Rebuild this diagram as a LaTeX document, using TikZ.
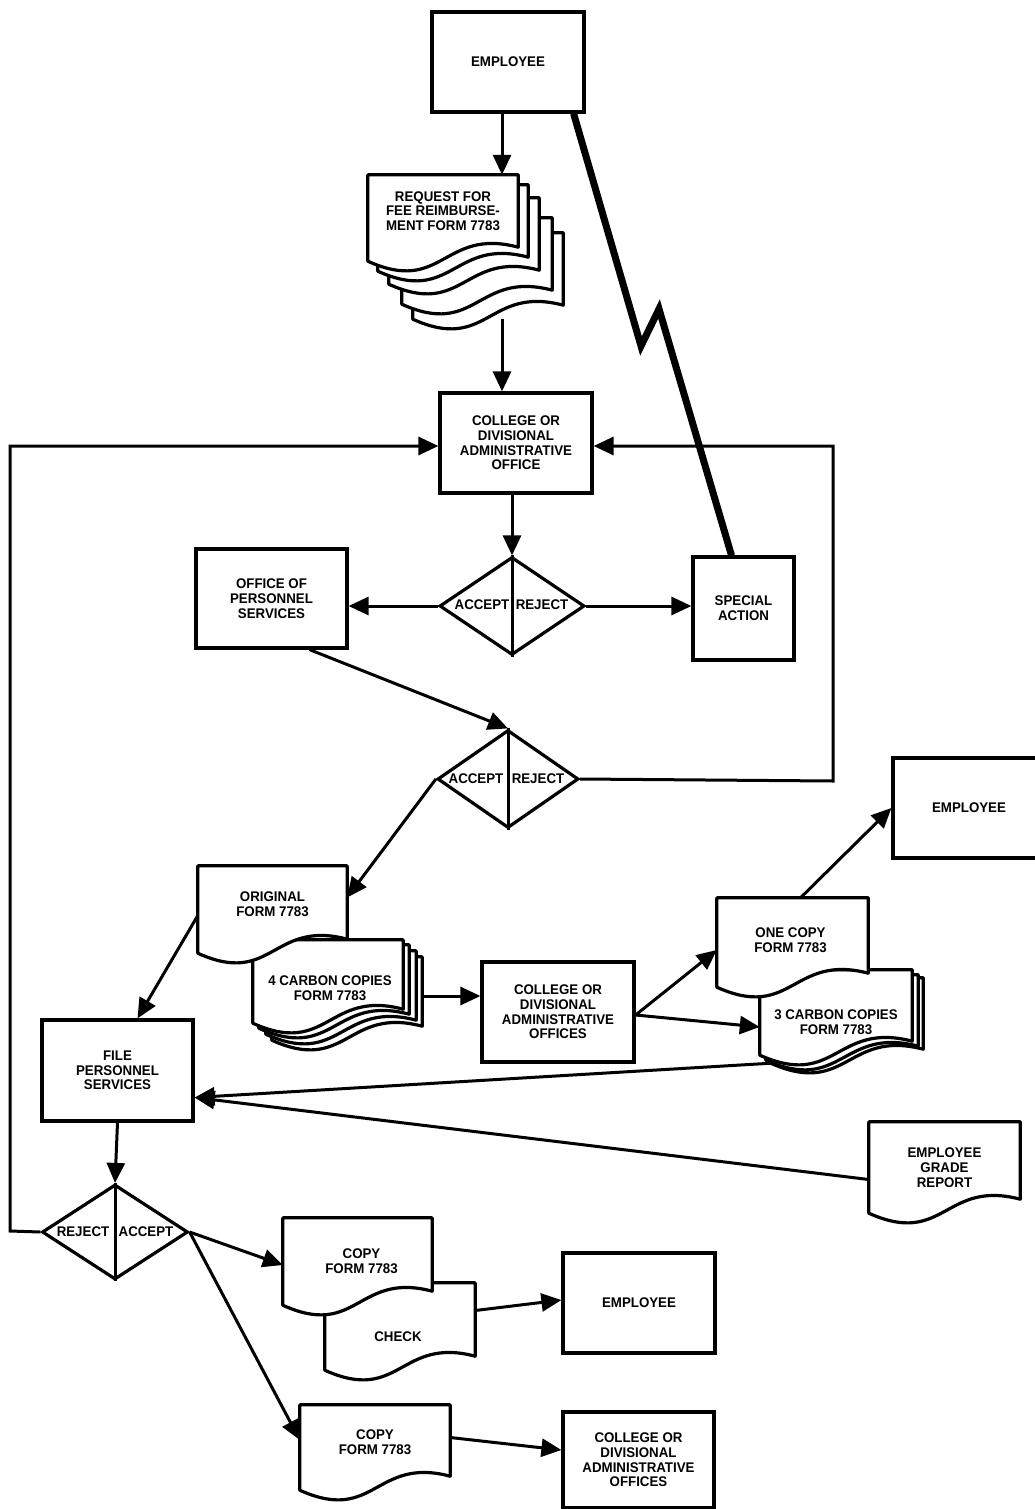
\documentclass[tikz,border=0pt]{standalone}
\usepackage{fontspec}
\setmainfont{Liberation Sans}[FakeStretch=0.95]
\usetikzlibrary{arrows.meta,calc,shapes.geometric,backgrounds}

\newcommand\lblfont{\fontsize{14}{14.7}\selectfont\bfseries}

\tikzset{
  box/.style={draw, line width=3.2pt, fill=white, minimum width=152pt,
    minimum height=100pt, inner sep=0pt, align=center, font=\lblfont},
  docnode/.style={inner sep=0pt},
  docline/.style={draw, line width=3.2pt, fill=white, line join=round},
  lbl/.style={align=center, font=\lblfont, inner sep=0pt},
  dec/.style={draw, diamond, line width=3.2pt, fill=white, inner sep=0pt},
  arr/.style={line width=3pt, line join=miter, -{Triangle[length=20pt,width=18pt]}},
  flow/.style={line width=3pt},
  jag/.style={line width=7pt, line join=miter}
}

% document sheet with a wavy lower edge, drawn around an empty node
\newcommand\drawdoc[1]{%
  \draw[docline] (#1.north west) -- (#1.north east)
    -- ($(#1.south east)+(0,-14)$)
    .. controls ($(#1.south)+(0,-34)$) and ($(#1.south)+(0,34)$) .. (#1.south west)
    -- cycle;}
\newcommand\sheet[5]{%
  \node[docnode, minimum width=#4pt, minimum height=#5pt] (#1) at (#2,#3) {};
  \drawdoc{#1}}

\begin{document}
\begin{tikzpicture}[x=1pt, y=-1pt]
\useasboundingbox (0,0) rectangle (1035,1509);

% ---- boxes ----
\node[box] (emp1) at (508,62) {EMPLOYEE};
\node[box] (coll1) at (516,443) {COLLEGE OR\\DIVISIONAL\\ADMINISTRATIVE\\OFFICE};
\node[box, minimum width=151pt, minimum height=99pt] (ops) at (271.5,598.5) {OFFICE OF\\PERSONNEL\\SERVICES};
\node[box, minimum width=101pt, minimum height=103pt] (spec) at (743.5,608.5) {SPECIAL\\ACTION};
\node[box] (emp2) at (969,808) {EMPLOYEE};
\node[box] (coll2) at (558,1012) {COLLEGE OR\\DIVISIONAL\\ADMINISTRATIVE\\OFFICES};
\node[box, minimum width=151pt, minimum height=101pt] (file) at (117.5,1070.5) {FILE\\PERSONNEL\\SERVICES};
\node[box] (emp3) at (639,1303) {EMPLOYEE};
\node[box, minimum width=151pt, minimum height=96pt] (coll3) at (638.5,1460) {COLLEGE OR\\DIVISIONAL\\ADMINISTRATIVE\\OFFICES};

% ---- decisions ----
\node[dec, minimum width=145pt, minimum height=98pt] (d1) at (512,606) {};
\node[dec, minimum width=141pt, minimum height=98pt] (d2) at (508,779) {};
\node[dec, minimum width=146pt, minimum height=95pt] (d3) at (115,1232) {};
\draw[flow] (d1.north) -- (d1.south);
\draw[flow] (d2.north) -- (d2.south);
\draw[flow] (d3.north) -- (d3.south);
\node[lbl] (d1a) at (482,605) {ACCEPT};
\node[lbl] (d1r) at (542,605) {REJECT};
\node[lbl] (d2a) at (476,779) {ACCEPT};
\node[lbl] (d2r) at (538,779) {REJECT};
\node[lbl] (d3r) at (83,1232) {REJECT};
\node[lbl] (d3a) at (146,1232) {ACCEPT};

% ---- documents ----
\sheet{req4}{488}{276}{150}{86}
\sheet{req3}{477}{261}{150}{86}
\sheet{req2}{464}{241}{150}{86}
\sheet{req1}{453}{228}{150}{86}
\sheet{req0}{443}{218}{150}{86}
\node[lbl] (reqt) at ([yshift=7pt]req0.center) {REQUEST FOR\\FEE REIMBURSE-\\MENT FORM 7783};

\sheet{carb4d}{347}{998.5}{150}{83}
\sheet{carb4c}{341}{992.5}{150}{83}
\sheet{carb4b}{334}{986.5}{150}{83}
\sheet{carb4a}{328}{981.5}{150}{83}
\sheet{orig}{272.5}{909.5}{149}{87}
\node[lbl] (origt) at ([yshift=5pt]orig.center) {ORIGINAL\\FORM 7783};
\node[lbl] (carb4t) at ([xshift=2pt,yshift=-6.5pt]carb4a.center) {4 CARBON COPIES\\FORM 7783};

\sheet{carb3c}{847}{1020.5}{152}{85}
\sheet{carb3b}{842}{1017.5}{152}{85}
\sheet{carb3a}{836}{1012.5}{152}{85}
\sheet{one}{792.5}{942.5}{151}{89}
\node[lbl] (onet) at ([xshift=-2pt,yshift=2pt]one.center) {ONE COPY\\FORM 7783};
\node[lbl] (carb3t) at ([yshift=-9.5pt]carb3a.center) {3 CARBON COPIES\\FORM 7783};

\sheet{grade}{944.5}{1167.5}{151}{91}
\node[lbl] (gradet) at (grade.center) {EMPLOYEE\\GRADE\\REPORT};

\sheet{check}{400}{1326.5}{150}{87}
\sheet{copy1}{357.5}{1261.5}{149}{87}
\node[lbl] (copy1t) at ([xshift=4pt]copy1.center) {COPY\\FORM 7783};
\node[lbl] (checkt) at ([xshift=-2pt,yshift=-10pt]check.center) {CHECK};

\sheet{copy2}{375}{1447.5}{150}{85}
\node[lbl] (copy2t) at ([yshift=5pt]copy2.center) {COPY\\FORM 7783};

% ---- connectors (behind the shapes) ----
\coordinate (zigA) at (641,346);
\coordinate (zigB) at (659,309);
\coordinate (loopR1) at (833,781);
\coordinate (loopR2) at (833,446);
\coordinate (loopL1) at (10,1231);
\coordinate (loopL2) at (10,446);
\coordinate (c2in) at ([yshift=16pt]coll2.west);
\coordinate (fileIn) at ([yshift=-27pt]file.east);

\begin{scope}[on background layer]
\fill[white] (0,0) rectangle (1035,1509);
\draw[arr] ([xshift=-6pt]emp1.south) -- ([xshift=-6pt]emp1.south |- req0.north);
\draw[arr] ([xshift=-14pt]coll1.north |- req4.south) -- ([xshift=-14pt]coll1.north);
\draw[arr] (d1.north |- coll1.south) -- (d1.north);
\draw[arr] (d1.west) -- (d1.west -| ops.east);
\draw[arr] (d1.east) -- (d1.east -| spec.west);
\draw[jag] ([xshift=-12pt]emp1.south east) -- (zigA) -- (zigB) -- ([xshift=-12pt]spec.north);
\draw[arr] ([xshift=38pt]ops.south) -- (d2.north);
\draw[arr] (d2.east) -- (loopR1) -- (loopR2) -- (coll1.east |- loopR2);
\draw[arr] (d2.west) -- ([yshift=12pt]orig.east);
\draw[arr] ([yshift=-6pt]orig.west) -- ([xshift=20pt]file.north);
\draw[arr] (carb4d.east |- c2in) -- (c2in);
\draw[arr] ([yshift=-3pt]coll2.east) -- ([yshift=-7.5pt]one.west);
\draw[arr] ([yshift=-3pt]coll2.east) -- ([yshift=-14.5pt]carb3a.west);
\draw[arr] ([xshift=8pt]one.north) -- (emp2.west);
\draw[arr] (carb3c.south west) -- (fileIn);
\draw[arr] ([yshift=-12pt]grade.west) -- (fileIn);
\draw[arr] (file.south) -- (d3.north);
\draw[arr] (d3.west) -- (loopL1) -- (loopL2) -- (coll1.west |- loopL2);
\draw[arr] (d3.east) -- ([yshift=-3.5pt]copy1.west);
\draw[arr] (d3.east) -- ([yshift=7.5pt]copy2.west);
\draw[arr] ([yshift=16pt]check.east) -- ([yshift=3pt]emp3.west);
\draw[arr] ([yshift=10pt]copy2.east) -- ([yshift=10pt]coll3.west);
\end{scope}
\end{tikzpicture}
\end{document}
